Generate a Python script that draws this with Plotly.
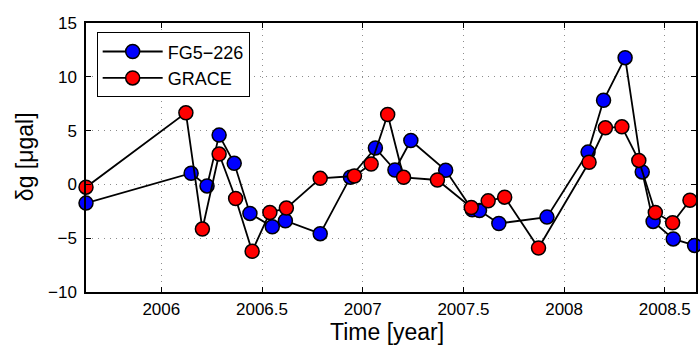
import plotly.graph_objects as go

# FG5-226 absolute gravity (blue)
fg5_t = [2005.626, 2006.148, 2006.227, 2006.287, 2006.362, 2006.440, 2006.551, 2006.616,
         2006.789, 2006.939, 2007.063, 2007.160, 2007.239, 2007.412, 2007.544, 2007.580,
         2007.676, 2007.915, 2008.119, 2008.196, 2008.303, 2008.388, 2008.442, 2008.542,
         2008.648]
fg5_g = [-1.74, 1.04, -0.14, 4.58, 1.96, -2.70, -3.94, -3.38,
         -4.58, 0.67, 3.38, 1.34, 4.08, 1.31, -2.36, -2.43,
         -3.63, -3.04, 3.00, 7.82, 11.78, 1.16, -3.44, -5.07,
         -5.67]

# GRACE (red)
grace_t = [2005.626, 2006.122, 2006.204, 2006.287, 2006.369, 2006.451, 2006.539, 2006.621,
           2006.789, 2006.959, 2007.042, 2007.124, 2007.203, 2007.371, 2007.539, 2007.623,
           2007.705, 2007.873, 2008.124, 2008.205, 2008.287, 2008.371, 2008.453, 2008.539,
           2008.625]
grace_g = [-0.26, 6.65, -4.15, 2.82, -1.31, -6.22, -2.61, -2.20,
           0.56, 0.78, 1.90, 6.50, 0.66, 0.41, -2.15, -1.53,
           -1.19, -5.91, 2.06, 5.26, 5.35, 2.23, -2.61, -3.56,
           -1.47]

x_ticks = [2006, 2006.5, 2007, 2007.5, 2008, 2008.5]
x_tick_labels = ["2006", "2006.5", "2007", "2007.5", "2008", "2008.5"]
y_ticks = [-10, -5, 0, 5, 10, 15]
y_tick_labels = ["\u221210", "\u22125", "0", "5", "10", "15"]
x_title = "Time [year]"
y_title = "\u03b4g [\u03bcgal]"

FONT = "Liberation Sans, Arial, Helvetica, sans-serif"

fig = go.Figure()
fig.add_trace(go.Scatter(
    x=fg5_t, y=fg5_g, mode="lines+markers", name="FG5\u2212226",
    line=dict(color="black", width=1.8),
    marker=dict(size=14, color="#0000ff", line=dict(color="black", width=1.5)),
    cliponaxis=False,
))
fig.add_trace(go.Scatter(
    x=grace_t, y=grace_g, mode="lines+markers", name="GRACE",
    line=dict(color="black", width=1.8),
    marker=dict(size=14, color="#ff0000", line=dict(color="black", width=1.5)),
    cliponaxis=False,
))

axis_common = dict(
    showline=True, linecolor="black", linewidth=1.5, mirror="ticks",
    ticks="inside", ticklen=5, tickwidth=1, tickcolor="black",
    showgrid=True, gridcolor="#8c8c8c", griddash="1px,5px", gridwidth=1,
    zeroline=False, tickfont=dict(family=FONT, size=17, color="black"),
)

fig.update_xaxes(
    range=[2005.626, 2008.655], tickmode="array", tickvals=x_ticks, ticktext=x_tick_labels,
    ticklabelstandoff=1,
    **axis_common,
)
fig.update_yaxes(
    range=[-10, 15], tickmode="array", tickvals=y_ticks, ticktext=y_tick_labels,
    ticklabelstandoff=4,
    **axis_common,
)

fig.add_annotation(
    text=x_title, xref="paper", yref="paper", x=0.4935, y=-0.148,
    xanchor="center", yanchor="middle", showarrow=False,
    font=dict(family=FONT, size=23, color="black"),
)
fig.add_annotation(
    text=y_title, xref="paper", yref="paper", x=-0.0997, y=0.502,
    xanchor="center", yanchor="middle", showarrow=False, textangle=-90,
    font=dict(family=FONT, size=23, color="black"),
)

fig.update_layout(
    width=700, height=347,
    margin=dict(l=86, r=2, t=23, b=55),
    paper_bgcolor="white", plot_bgcolor="white",
    font=dict(family=FONT, color="black"),
    showlegend=True,
    legend=dict(
        x=0.0175, y=0.9654, xanchor="left", yanchor="top",
        bgcolor="white", bordercolor="black", borderwidth=1,
        font=dict(family=FONT, size=18, color="black"),
        itemwidth=60, tracegroupgap=0, entrywidth=150, entrywidthmode="pixels",
    ),
)

fig.write_html("out.html")
